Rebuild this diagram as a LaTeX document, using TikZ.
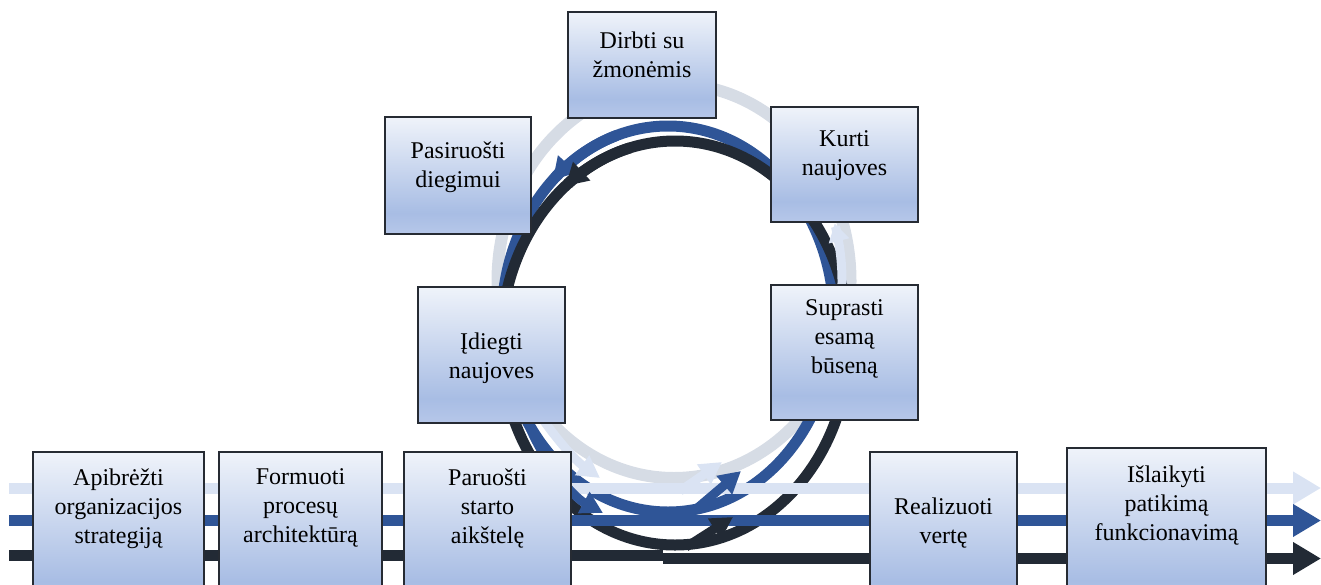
\documentclass[tikz,border=0pt]{standalone}
\usepackage{fontspec}
\setmainfont{Liberation Serif}
\usetikzlibrary{arrows.meta}

% palette
\definecolor{lineLight}{HTML}{DAE3F3}
\definecolor{ringGray}{HTML}{D6DCE5}
\definecolor{flowBlue}{HTML}{2F5597}
\definecolor{flowDark}{HTML}{222A35}
\definecolor{boxTop}{HTML}{EFF3FA}
\definecolor{boxMid}{HTML}{A8BDE4}
\definecolor{boxBot}{HTML}{B6C7E9}
\definecolor{boxEdge}{HTML}{262B33}

% light at the top, deepest blue near the bottom, a little lighter at the very bottom
\pgfdeclareverticalshading{boxfade}{100bp}{color(0bp)=(boxBot); color(25bp)=(boxBot);
  color(34bp)=(boxMid); color(75bp)=(boxTop); color(100bp)=(boxTop)}

\tikzset{
  stepbox/.style={rectangle, draw=boxEdge, line width=1.5pt, shading=boxfade, inner sep=0pt},
  caption/.style={align=center, inner sep=0pt, anchor=north},
  flow/.style={line width=11pt},
  bighead/.style={-{Triangle[length=28pt,width=31pt]}},
  smallhead/.style={-{Triangle[length=22pt,width=23pt]}},
}

\begin{document}
\begin{tikzpicture}[x=1pt, y=-1pt, font=\fontsize{24}{29}\selectfont]
\useasboundingbox (0,0) rectangle (1321,584);

% ---- the improvement cycle: three rings ----
\draw[ringGray, line width=12pt] (674,281) ellipse [x radius=176.5pt, y radius=197pt];
\draw[flowBlue, line width=11pt] (668,319) ellipse [x radius=166pt, y radius=193pt];
\draw[flowDark, line width=11pt] (675,343) ellipse [x radius=174pt, y radius=202pt];

% direction marks on the rings (counter-clockwise travel)
\draw[flowBlue, line width=11pt, {Triangle[length=22pt,width=24pt]}-]
  plot[domain=226:252, samples=27] ({668+166*cos(\x)}, {319+193*sin(\x)});
\draw[flowDark, line width=11pt, {Triangle[length=22pt,width=24pt]}-]
  plot[domain=231:255, samples=25] ({675+174*cos(\x)}, {343+202*sin(\x)});
\draw[lineLight, line width=9pt, {Triangle[length=18pt,width=20pt]}-]
  plot[domain=-17:12, samples=30] ({674+168*cos(\x)}, {281+197*sin(\x)});

% ---- the three value streams ----
\coordinate (lightIn) at (9,488);   \coordinate (lightOut) at (1321,488);
\coordinate (blueIn)  at (9,520.5); \coordinate (blueOut)  at (1321,520.5);
\coordinate (darkIn)  at (9,555);   \coordinate (darkJoin) at (663,555);
\coordinate (darkFrom) at (663,558.5); \coordinate (darkOut) at (1321,558.5);

\draw[lineLight, flow, bighead] (lightIn) -- (lightOut);
\draw[flowBlue, flow, bighead] (blueIn) -- (blueOut);
\draw[flowDark, flow] (darkIn) -- (darkJoin);
\draw[flowDark, flow, bighead] (darkFrom) -- (darkOut);

% streams leaving the cycle (down to the right)
\coordinate (lightDrop) at (530,400); \coordinate (lightLand) at (600,478);
\coordinate (blueDrop)  at (528,423); \coordinate (blueLand)  at (603,513);
\draw[lineLight, line width=9pt, smallhead]
  (lightDrop) .. controls (545,425) and (572,458) .. (lightLand);
\draw[flowBlue, line width=9pt, smallhead]
  (blueDrop) .. controls (540,455) and (570,495) .. (blueLand);

% streams entering the cycle (up to the right)
\coordinate (lightRise) at (680,491); \coordinate (lightTop) at (722,462);
\coordinate (blueRise)  at (695,510); \coordinate (blueTop)  at (741,471);
\coordinate (darkRise)  at (686,547); \coordinate (darkTop)  at (733,517);
\draw[lineLight, line width=9pt, smallhead] (lightRise) -- (lightTop);
\draw[flowBlue, line width=9pt, smallhead] (blueRise) -- (blueTop);
\draw[flowDark, line width=9pt, smallhead] (darkRise) -- (darkTop);

% ---- steps along the main line ----
\node[stepbox, minimum width=171pt, minimum height=158pt] (apibr) at (118.5,531) {};
\node[stepbox, minimum width=163pt, minimum height=158pt] (formuoti) at (300.5,531) {};
\node[stepbox, minimum width=167pt, minimum height=158pt] (paruosti) at (487.5,531) {};
\node[stepbox, minimum width=147pt, minimum height=158pt] (realizuoti) at (943.5,531) {};
\node[stepbox, minimum width=199pt, minimum height=162pt] (islaikyti) at (1166.5,529) {};

% ---- steps around the cycle ----
\node[stepbox, minimum width=148pt, minimum height=106pt] (dirbti) at (642,65) {};
\node[stepbox, minimum width=147pt, minimum height=115pt] (kurti) at (844.5,164.5) {};
\node[stepbox, minimum width=146pt, minimum height=117pt] (pasiruosti) at (458,175.5) {};
\node[stepbox, minimum width=147pt, minimum height=136pt] (idiegti) at (491.5,355) {};
\node[stepbox, minimum width=147pt, minimum height=135pt] (suprasti) at (844.5,352.5) {};

% ---- captions ----
\node[caption] (apibr-t) at (118.5,468.6) {Apibrėžti\\organizacijos\\strategiją};
\node[caption] (formuoti-t) at (300.5,468.6) {Formuoti\\procesų\\architektūrą};
\node[caption] (paruosti-t) at (487.5,468.6) {Paruošti\\starto\\aikštelę};
\node[caption] (realizuoti-t) at (943.5,497.6) {Realizuoti\\vertę};
\node[caption] (islaikyti-t) at (1166.5,465.6) {Išlaikyti\\patikimą\\funkcionavimą};
\node[caption] (dirbti-t) at (642,31.6) {Dirbti su\\žmonėmis};
\node[caption] (kurti-t) at (844.5,130.6) {Kurti\\naujoves};
\node[caption] (pasiruosti-t) at (458,141.6) {Pasiruošti\\diegimui};
\node[caption] (idiegti-t) at (491.5,332.6) {Įdiegti\\naujoves};
\node[caption] (suprasti-t) at (844.5,299.6) {Suprasti\\esamą\\būseną};
\end{tikzpicture}
\end{document}
